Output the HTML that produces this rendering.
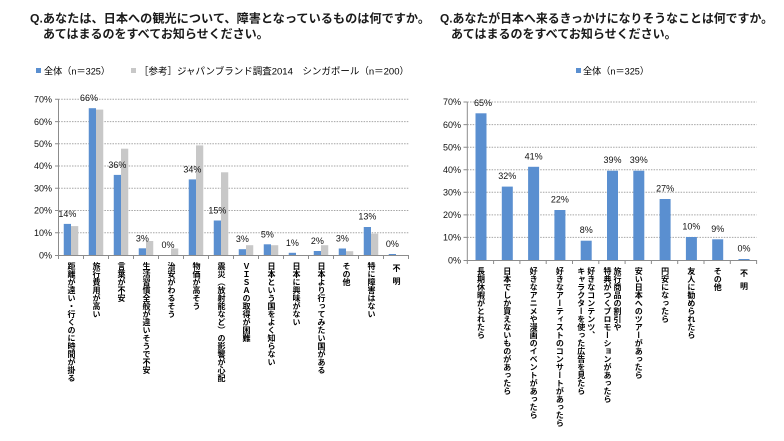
<!DOCTYPE html>
<html><head><meta charset="utf-8">
<style>
html,body{margin:0;padding:0;background:#fff;}
#w{position:relative;width:784px;height:441px;overflow:hidden;background:#fff;}
svg{position:absolute;left:0;top:0;}
.vl{position:absolute;writing-mode:vertical-rl;font-family:"Liberation Sans","Noto Sans CJK JP",sans-serif;font-size:8px;line-height:10px;color:#000;white-space:nowrap;font-weight:bold;}
</style></head><body><div id="w">
<svg width="784" height="441" viewBox="0 0 784 441" xmlns="http://www.w3.org/2000/svg">
<g font-family="Liberation Sans, Noto Sans CJK JP, sans-serif" font-weight="bold" font-size="12" fill="#1a1a1a">
<text x="30" y="22.5" textLength="400" lengthAdjust="spacingAndGlyphs">Q.あなたは、日本への観光について、障害となっているものは何ですか。</text>
<text x="43" y="38">あてはまるのをすべてお知らせください。</text>
<text x="440" y="22.5" textLength="333" lengthAdjust="spacingAndGlyphs">Q.あなたが日本へ来るきっかけになりそうなことは何ですか。</text>
<text x="451" y="38">あてはまるのをすべてお知らせください。</text>
</g>
<g font-family="Liberation Sans, Noto Sans CJK JP, sans-serif" font-size="9.5" fill="#000">
<rect x="36" y="68" width="5" height="5" fill="#5a8fd0"/>
<text x="44" y="74.5" textLength="66" lengthAdjust="spacingAndGlyphs">全体（n＝325）</text>
<rect x="131" y="68" width="5" height="5" fill="#c8c8c8"/>
<text x="139" y="74.5" textLength="270" lengthAdjust="spacingAndGlyphs">［参考］ジャパンブランド調査2014　シンガポール（n＝200）</text>
<rect x="576" y="68" width="5" height="5" fill="#5a8fd0"/>
<text x="583" y="74.5" textLength="66" lengthAdjust="spacingAndGlyphs">全体（n＝325）</text>
</g>
<g stroke="#a6a6a6" stroke-width="1" stroke-dasharray="1.5 1.2" fill="none">
<line x1="58.5" y1="232.8" x2="408.5" y2="232.8"/>
<line x1="58.5" y1="210.5" x2="408.5" y2="210.5"/>
<line x1="58.5" y1="188.3" x2="408.5" y2="188.3"/>
<line x1="58.5" y1="166" x2="408.5" y2="166"/>
<line x1="58.5" y1="143.8" x2="408.5" y2="143.8"/>
<line x1="58.5" y1="121.6" x2="408.5" y2="121.6"/>
<line x1="58.5" y1="99.3" x2="408.5" y2="99.3"/>
<line x1="467.3" y1="237.4" x2="756.6" y2="237.4"/>
<line x1="467.3" y1="214.9" x2="756.6" y2="214.9"/>
<line x1="467.3" y1="192.3" x2="756.6" y2="192.3"/>
<line x1="467.3" y1="169.7" x2="756.6" y2="169.7"/>
<line x1="467.3" y1="147.2" x2="756.6" y2="147.2"/>
<line x1="467.3" y1="124.6" x2="756.6" y2="124.6"/>
<line x1="467.3" y1="102" x2="756.6" y2="102"/>
</g>
<g fill="#5a8fd0">
<rect x="63.75" y="223.9" width="7.25" height="31.1"/>
<rect x="88.75" y="108.2" width="7.25" height="146.8"/>
<rect x="113.75" y="174.9" width="7.25" height="80.1"/>
<rect x="138.75" y="248.3" width="7.25" height="6.7"/>
<rect x="188.75" y="179.4" width="7.25" height="75.6"/>
<rect x="213.75" y="220.5" width="7.25" height="34.5"/>
<rect x="238.75" y="249.2" width="7.25" height="5.8"/>
<rect x="263.75" y="244.3" width="7.25" height="10.7"/>
<rect x="288.75" y="252.8" width="7.25" height="2.2"/>
<rect x="313.75" y="251" width="7.25" height="4"/>
<rect x="338.75" y="248.5" width="7.25" height="6.5"/>
<rect x="363.75" y="227" width="7.25" height="28"/>
<rect x="388.75" y="254" width="7.25" height="1"/>
</g>
<g fill="#c8c8c8">
<rect x="71" y="226.1" width="7.25" height="28.9"/>
<rect x="96" y="109.6" width="7.25" height="145.4"/>
<rect x="121" y="148.7" width="7.25" height="106.3"/>
<rect x="146" y="241" width="7.25" height="14"/>
<rect x="171" y="248.5" width="7.25" height="6.5"/>
<rect x="196" y="145.4" width="7.25" height="109.6"/>
<rect x="221" y="172.3" width="7.25" height="82.7"/>
<rect x="246" y="245.2" width="7.25" height="9.8"/>
<rect x="271" y="245.2" width="7.25" height="9.8"/>
<rect x="321" y="245.2" width="7.25" height="9.8"/>
<rect x="346" y="251.2" width="7.25" height="3.8"/>
<rect x="371" y="233.6" width="7.25" height="21.4"/>
</g>
<g fill="#5a8fd0">
<rect x="475.5" y="113.3" width="11" height="146.7"/>
<rect x="501.8" y="186.6" width="11" height="73.4"/>
<rect x="528.1" y="166.8" width="11" height="93.2"/>
<rect x="554.4" y="210" width="11" height="50"/>
<rect x="580.7" y="240.7" width="11" height="19.3"/>
<rect x="607" y="170.7" width="11" height="89.3"/>
<rect x="633.3" y="170.7" width="11" height="89.3"/>
<rect x="659.6" y="199" width="11" height="61"/>
<rect x="685.9" y="237" width="11" height="23"/>
<rect x="712.2" y="239.3" width="11" height="20.7"/>
<rect x="738.5" y="259" width="11" height="1"/>
</g>
<g stroke="#8c8c8c" stroke-width="1" fill="none">
<line x1="58.5" y1="99.3" x2="58.5" y2="255"/>
<line x1="58.5" y1="255.5" x2="408.5" y2="255.5"/>
<path d="M55 255.5H58.5M55 232.8H58.5M55 210.5H58.5M55 188.3H58.5M55 166H58.5M55 143.8H58.5M55 121.6H58.5M55 99.3H58.5"/>
<path d="M58.5 255V259M83.5 255V259M108.5 255V259M133.5 255V259M158.5 255V259M183.5 255V259M208.5 255V259M233.5 255V259M258.5 255V259M283.5 255V259M308.5 255V259M333.5 255V259M358.5 255V259M383.5 255V259M408.5 255V259"/>
<line x1="467.3" y1="102" x2="467.3" y2="260"/>
<line x1="467.3" y1="260.5" x2="756.6" y2="260.5"/>
<path d="M463.5 260.5H467.3M463.5 237.4H467.3M463.5 214.9H467.3M463.5 192.3H467.3M463.5 169.7H467.3M463.5 147.2H467.3M463.5 124.6H467.3M463.5 102H467.3"/>
<path d="M467.3 260V264M493.6 260V264M519.9 260V264M546.2 260V264M572.5 260V264M598.8 260V264M625.1 260V264M651.4 260V264M677.7 260V264M704 260V264M730.3 260V264M756.6 260V264"/>
</g>
<g font-family="Liberation Sans, sans-serif" font-size="9" fill="#111" text-anchor="end">
<text x="52" y="258.5">0%</text>
<text x="52" y="236">10%</text>
<text x="52" y="213.7">20%</text>
<text x="52" y="191.5">30%</text>
<text x="52" y="169.2">40%</text>
<text x="52" y="147">50%</text>
<text x="52" y="124.8">60%</text>
<text x="52" y="102.5">70%</text>
<text x="461" y="263.5">0%</text>
<text x="461" y="240.6">10%</text>
<text x="461" y="218.1">20%</text>
<text x="461" y="195.5">30%</text>
<text x="461" y="172.9">40%</text>
<text x="461" y="150.4">50%</text>
<text x="461" y="127.8">60%</text>
<text x="461" y="105.2">70%</text>
</g>
<g font-family="Liberation Sans, sans-serif" font-size="9" fill="#111" text-anchor="middle">
<text x="67.4" y="216.9">14%</text>
<text x="89" y="101.2">66%</text>
<text x="117.4" y="167.9">36%</text>
<text x="142.4" y="241.3">3%</text>
<text x="168" y="248">0%</text>
<text x="192.4" y="172.4">34%</text>
<text x="217.4" y="213.5">15%</text>
<text x="242.4" y="242.2">3%</text>
<text x="267.4" y="237.3">5%</text>
<text x="292.4" y="245.8">1%</text>
<text x="317.4" y="244">2%</text>
<text x="342.4" y="241.5">3%</text>
<text x="367.4" y="219.7">13%</text>
<text x="392.4" y="247">0%</text>
<text x="483" y="105.8">65%</text>
<text x="507.3" y="179.1">32%</text>
<text x="533.6" y="159.3">41%</text>
<text x="559.9" y="202.5">22%</text>
<text x="586.2" y="233.2">8%</text>
<text x="612.5" y="163.2">39%</text>
<text x="638.8" y="163.2">39%</text>
<text x="665.1" y="191.5">27%</text>
<text x="691.4" y="229.5">10%</text>
<text x="717.7" y="231.8">9%</text>
<text x="744" y="251.5">0%</text>
</g>
</svg>
<div class="vl" style="left:66px;top:262px;">距離が遠い・行くのに時間が掛る</div>
<div class="vl" style="left:91px;top:262px;">旅行費用が高い</div>
<div class="vl" style="left:116px;top:262px;">言葉が不安</div>
<div class="vl" style="left:141px;top:262px;">生活習慣全般が違いそうで不安</div>
<div class="vl" style="left:166px;top:262px;">治安がわるそう</div>
<div class="vl" style="left:191px;top:262px;">物価が高そう</div>
<div class="vl" style="left:216px;top:262px;">震災（放射能など）の影響が心配</div>
<div class="vl" style="left:241px;top:262px;">ＶＩＳＡの取得が困難</div>
<div class="vl" style="left:266px;top:262px;">日本という国をよく知らない</div>
<div class="vl" style="left:291px;top:262px;">日本に興味がない</div>
<div class="vl" style="left:316px;top:262px;">日本より行ってみたい国がある</div>
<div class="vl" style="left:341px;top:262px;">その他</div>
<div class="vl" style="left:366px;top:262px;">特に障害はない</div>
<div class="vl" style="left:391px;top:264px;letter-spacing:5px;">不明</div>
<div class="vl" style="left:475.5px;top:267px;">長期休暇がとれたら</div>
<div class="vl" style="left:501.8px;top:267px;">日本でしか買えないものがあったら</div>
<div class="vl" style="left:528.1px;top:267px;">好きなアニメや漫画のイベントがあったら</div>
<div class="vl" style="left:554.4px;top:267px;">好きなアーティストのコンサートがあったら</div>
<div class="vl" style="left:575.7px;top:267px;">好きなコンテンツ、<br>キャラクターを使った広告を見たら</div>
<div class="vl" style="left:602px;top:267px;">旅行商品の割引や<br>特典がつくプロモーションがあったら</div>
<div class="vl" style="left:633.3px;top:267px;">安い日本へのツアーがあったら</div>
<div class="vl" style="left:659.6px;top:267px;">円安になったら</div>
<div class="vl" style="left:685.9px;top:267px;">友人に勧められたら</div>
<div class="vl" style="left:712.2px;top:267px;">その他</div>
<div class="vl" style="left:738.5px;top:269px;letter-spacing:5px;">不明</div>
</div></body></html>
